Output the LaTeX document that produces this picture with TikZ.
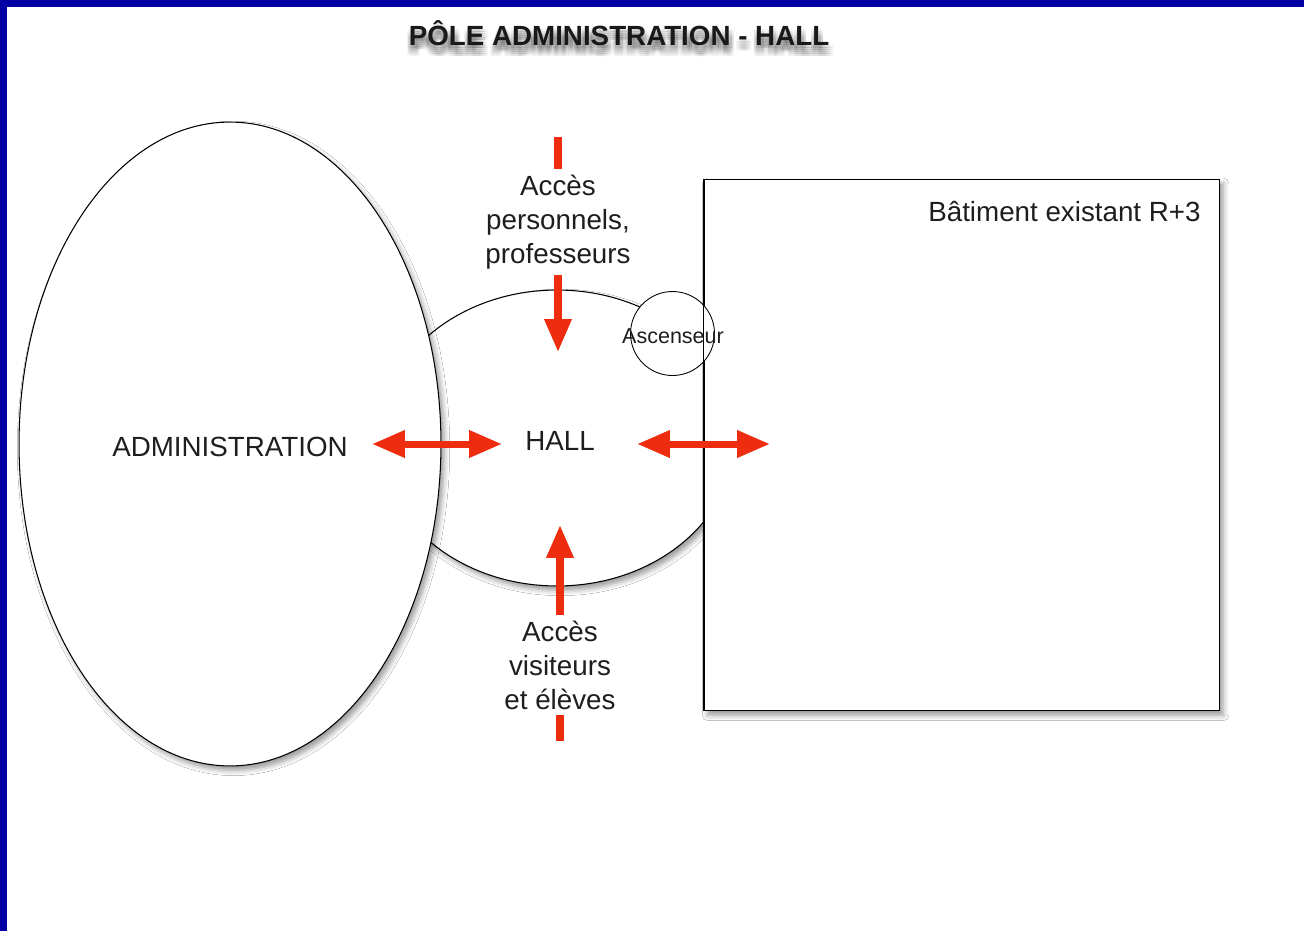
\documentclass[tikz,border=0pt]{standalone}
\usepackage{fontspec}
\setmainfont{Liberation Sans}
\usetikzlibrary{arrows.meta,shadows.blur,shapes.geometric}
\definecolor{bordblue}{RGB}{0,0,165}
\definecolor{arrred}{RGB}{238,44,16}
\definecolor{txtgray}{RGB}{30,30,30}
\begin{document}
\begin{tikzpicture}[x=0.02cm,y=-0.02cm,
  shp/.style={draw=black, line width=0.6pt, fill=white, inner sep=0pt,
    blur shadow={shadow xshift=2pt, shadow yshift=-2.5pt, shadow blur radius=3pt, shadow opacity=40}},
  lbl/.style={font=\fontsize{15.8pt}{19.3pt}\selectfont, text=txtgray, inner sep=0pt},
  titlestyle/.style={font=\fontsize{15.8pt}{19.3pt}\selectfont\bfseries, inner sep=0pt, anchor=base},
  redarrow/.style={draw=arrred, line width=4pt, -{Triangle[length=18.7pt,width=14.7pt]}},
  dblarrow/.style={draw=arrred, line width=4pt, {Triangle[length=18.7pt,width=14.7pt]}-{Triangle[length=18.7pt,width=14.7pt]}},
  whitebox/.style={fill=white, inner xsep=2pt, inner ysep=3.5pt, align=center}
]
% background and border
\fill[white] (0,0) rectangle (1304,931);
\useasboundingbox (0,0) rectangle (1304,931);
\fill[bordblue] (0,0) rectangle (1304,7);
\fill[bordblue] (0,0) rectangle (7,931);

% title with soft shadow
\foreach \dx in {-3,-1,1,3,5}{
  \foreach \dy in {3,5,7,9,11}{
    \node[titlestyle, text=black, opacity=0.03] at (619+\dx,45+\dy) {PÔLE ADMINISTRATION - HALL};
  }
}
\node[titlestyle, text=black!90] (title) at (619,45) {PÔLE ADMINISTRATION - HALL};

% hall
\node[shp, ellipse, minimum width=7.12cm, minimum height=5.92cm] (hall) at (557,438) {};
% administration
\node[shp, ellipse, minimum width=8.44cm, minimum height=12.88cm] (admin) at (230,444) {};
\node[lbl] (adminlbl) at (230,447) {ADMINISTRATION};
% existing building
\node[shp, rectangle, minimum width=10.32cm, minimum height=10.64cm] (bat) at (962,445) {};
\node[lbl, anchor=base east] (batlbl) at (1201,221) {Bâtiment existant R+3};
% elevator
\node[draw=black, fill=white, line width=0.5pt, circle, minimum size=1.68cm, inner sep=0pt] (asc) at (672.5,333.5) {};
\draw[black, line width=0.6pt] (bat.north west) -- (bat.south west);
\node[font=\fontsize{12.25pt}{14pt}\selectfont, text=txtgray, inner sep=0pt] (asclbl) at (673,336) {Ascenseur};

% coordinates for arrows
\coordinate (ptop) at (558,137);
\coordinate (phallN) at (558,352);
\coordinate (pbot) at (560,741);
\coordinate (phallS) at (560,525);
\coordinate (pleftA) at (372,444);
\coordinate (pleftB) at (502,444);
\coordinate (prightA) at (637,444);
\coordinate (prightB) at (770,444);

\draw[redarrow] (ptop) -- (phallN);
\draw[redarrow] (pbot) -- (phallS);
\draw[dblarrow] (pleftA) -- (pleftB);
\draw[dblarrow] (prightA) -- (prightB);

\node[lbl] (halllbl) at (560,441) {HALL};
\node[lbl, whitebox] (acctop) at (558,222) {Accès\\personnels,\\professeurs};
\node[lbl, whitebox] (accbot) at (560,665) {Accès\\visiteurs\\et élèves};
\end{tikzpicture}
\end{document}
